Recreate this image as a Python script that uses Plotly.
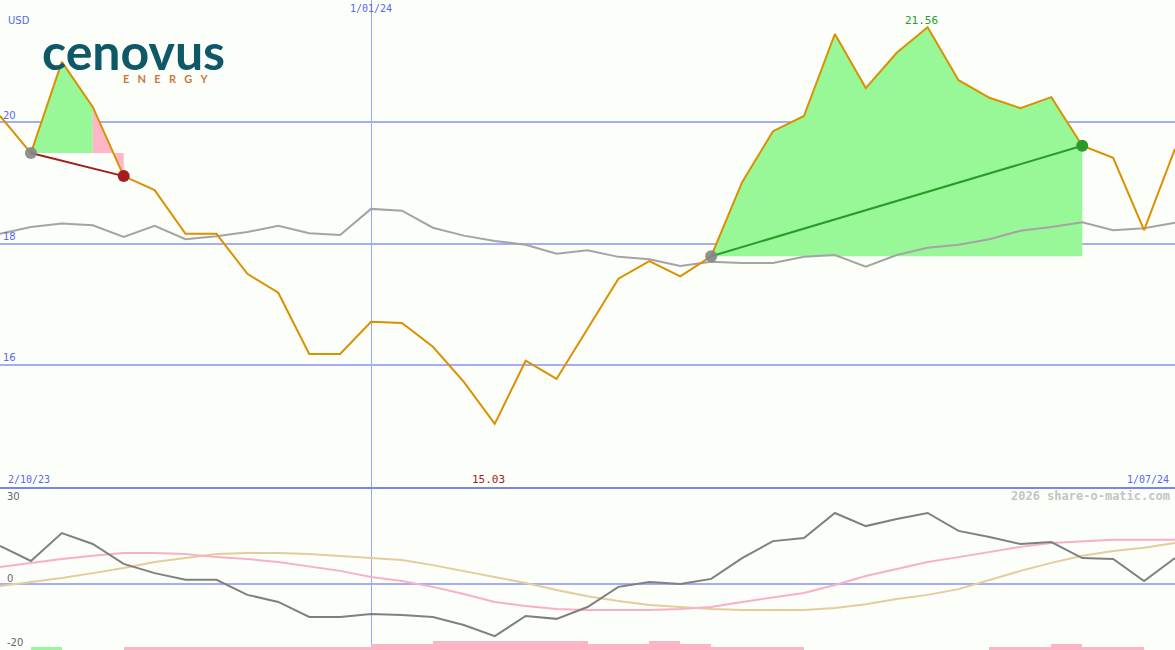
import plotly.graph_objects as go

# ---- data (weekly points, index 0..38) ----
idx = list(range(39))
close = [20.10, 19.49, 20.99, 20.25, 19.11, 18.88, 18.16, 18.16, 17.50, 17.19,
         16.18, 16.18, 16.71, 16.69, 16.30, 15.72, 15.03, 16.07, 15.77, 16.59,
         17.42, 17.71, 17.46, 17.79, 19.01, 19.85, 20.10, 21.45, 20.56, 21.14,
         21.56, 20.69, 20.40, 20.23, 20.41, 19.61, 19.41, 18.22, 19.56]
avg = [18.16, 18.27, 18.33, 18.30, 18.11, 18.29, 18.07, 18.12, 18.19, 18.29,
       18.17, 18.14, 18.57, 18.54, 18.26, 18.13, 18.04, 17.98, 17.83, 17.89,
       17.78, 17.74, 17.63, 17.70, 17.68, 17.68, 17.78, 17.81, 17.62, 17.81,
       17.93, 17.98, 18.07, 18.21, 18.27, 18.35, 18.22, 18.25, 18.34]
momentum = [11.9, 7.2, 15.9, 12.5, 6.3, 3.4, 1.3, 1.3, -3.4, -5.6,
            -10.3, -10.3, -9.4, -9.7, -10.3, -12.8, -16.3, -10.0, -10.9, -7.2,
            -0.9, 0.6, 0.0, 1.6, 8.1, 13.4, 14.4, 22.2, 18.1, 20.3,
            22.2, 16.6, 14.7, 12.5, 13.1, 8.1, 7.8, 0.9, 8.1]
osc_pink = [5.3, 6.6, 7.8, 8.8, 9.7, 9.7, 9.4, 8.4, 7.8, 6.9,
            5.6, 4.1, 2.2, 0.9, -0.9, -3.1, -5.6, -6.9, -7.8, -8.1,
            -8.1, -8.1, -7.8, -7.2, -5.6, -4.1, -2.8, -0.3, 2.5, 4.7,
            6.9, 8.4, 10.0, 11.6, 12.8, 13.4, 13.8, 13.8, 13.8]
osc_tan = [-0.6, 0.6, 1.9, 3.4, 5.0, 6.9, 8.1, 9.4, 9.7, 9.7,
           9.4, 8.8, 8.1, 7.5, 5.9, 4.1, 2.2, 0.3, -1.9, -3.8,
           -5.3, -6.6, -7.2, -7.8, -8.1, -8.1, -8.1, -7.5, -6.3, -4.7,
           -3.4, -1.6, 1.3, 4.1, 6.6, 8.8, 10.3, 11.3, 12.8]
# signal bars
bar_green_idx = [1]
bar_green_val = [1]
bar_pink_idx = [4, 5, 6, 7, 8, 9, 10, 11, 12, 13, 14, 15, 16, 17, 18, 19, 20, 21, 22, 23, 24, 25,
                32, 33, 34, 35, 36]
bar_pink_val = [1, 1, 1, 1, 1, 1, 1, 1, 2, 2, 3, 3, 3, 3, 3, 2, 2, 3, 2, 1, 1, 1,
                1, 1, 2, 1, 1]
# trades: (entry index, exit index)
trade1 = (1, 4)      # loss
trade1_peak = 3
trade2 = (23, 35)    # gain
date_tick_idx = 12
label_start, label_mid, label_end = "2/10/23", "1/01/24", "1/07/24"
price_ticks = [16, 18, 20]

BG = "#fcfefa"
GRID = "#a4aef2"
VGRID = "#9aa6fa"
LBL = "#5868ee"
ORANGE = "#db9000"
GREEN_FILL = "#98f898"
PINK_FILL = "#ffb6c8"

fig = go.Figure()

# --- fills (top panel) ---
e1, x1 = trade1
b1 = close[e1]
gx = list(range(e1, trade1_peak + 1))
fig.add_trace(go.Scatter(x=[e1] + gx + [trade1_peak], y=[b1] + [close[i] for i in gx] + [b1],
                         fill="toself", fillcolor=GREEN_FILL, line=dict(width=0),
                         mode="lines", hoverinfo="skip", showlegend=False))
fig.add_trace(go.Scatter(x=[trade1_peak, trade1_peak, x1, x1],
                         y=[b1, close[trade1_peak], close[x1], b1],
                         fill="toself", fillcolor=PINK_FILL, line=dict(width=0),
                         mode="lines", hoverinfo="skip", showlegend=False))
e2, x2 = trade2
b2 = close[e2]
rx = list(range(e2, x2 + 1))
fig.add_trace(go.Scatter(x=rx + [x2, e2], y=[close[i] for i in rx] + [b2, b2],
                         fill="toself", fillcolor=GREEN_FILL, line=dict(width=0),
                         mode="lines", hoverinfo="skip", showlegend=False))

# --- lines (top panel) ---
fig.add_trace(go.Scatter(x=idx, y=avg, mode="lines", line=dict(color="#a4a4a4", width=2),
                         showlegend=False))
fig.add_trace(go.Scatter(x=idx, y=close, mode="lines", line=dict(color=ORANGE, width=2),
                         showlegend=False))
fig.add_trace(go.Scatter(x=[e1, x1], y=[close[e1], close[x1]], mode="lines",
                         line=dict(color="#a51c1c", width=2), showlegend=False))
fig.add_trace(go.Scatter(x=[e2, x2], y=[close[e2], close[x2]], mode="lines",
                         line=dict(color="#2a9a2a", width=2), showlegend=False))
fig.add_trace(go.Scatter(x=[e1, e2], y=[close[e1], close[e2]], mode="markers",
                         marker=dict(color="#858585", size=12, opacity=0.9), showlegend=False))
fig.add_trace(go.Scatter(x=[x1], y=[close[x1]], mode="markers",
                         marker=dict(color="#a51c1c", size=12), showlegend=False))
fig.add_trace(go.Scatter(x=[x2], y=[close[x2]], mode="markers",
                         marker=dict(color="#2a9a2a", size=12), showlegend=False))

# --- lower panel ---
fig.add_trace(go.Bar(x=[i + 0.5 for i in bar_pink_idx], y=[v * 0.95 for v in bar_pink_val],
                     base=-20.63, width=1, marker=dict(color="#ffb4c6", line=dict(width=0)),
                     xaxis="x2", yaxis="y2", showlegend=False))
fig.add_trace(go.Bar(x=[i + 0.5 for i in bar_green_idx], y=[v * 0.95 for v in bar_green_val],
                     base=-20.63, width=1, marker=dict(color="#98f898", line=dict(width=0)),
                     xaxis="x2", yaxis="y2", showlegend=False))
fig.add_trace(go.Scatter(x=idx, y=osc_tan, mode="lines", line=dict(color="#e4cc9c", width=2),
                         xaxis="x2", yaxis="y2", showlegend=False))
fig.add_trace(go.Scatter(x=idx, y=osc_pink, mode="lines", line=dict(color="#f8b0c8", width=2),
                         xaxis="x2", yaxis="y2", showlegend=False))
fig.add_trace(go.Scatter(x=idx, y=momentum, mode="lines", line=dict(color="#808080", width=2),
                         xaxis="x2", yaxis="y2", showlegend=False))

mono = "DejaVu Sans Mono"
ann = []
ann.append(dict(text="USD", x=6 / 1175, xref="paper", y=1 - 20 / 650, yref="paper",
                showarrow=False, xanchor="left", yanchor="middle",
                font=dict(family="DejaVu Sans", size=10, color=LBL)))
ann.append(dict(text=label_mid, x=date_tick_idx, xref="x", y=1 - 9 / 650, yref="paper",
                showarrow=False, xanchor="center", yanchor="middle",
                font=dict(family=mono, size=10, color=LBL)))
ann.append(dict(text=label_start, x=6 / 1175, xref="paper", y=1 - 479 / 650, yref="paper",
                showarrow=False, xanchor="left", yanchor="middle",
                font=dict(family=mono, size=10, color=LBL)))
ann.append(dict(text=label_end, x=1 - 4 / 1175, xref="paper", y=1 - 479 / 650, yref="paper",
                showarrow=False, xanchor="right", yanchor="middle",
                font=dict(family=mono, size=10, color=LBL)))
imin = close.index(min(close))
imax = close.index(max(close))
ann.append(dict(text=f"{min(close):.2f}", x=imin - 0.2, xref="x", y=1 - 479 / 650, yref="paper",
                showarrow=False, xanchor="center", yanchor="middle",
                font=dict(family=mono, size=11, color="#a51c1c")))
ann.append(dict(text=f"{max(close):.2f}", x=imax - 0.2, xref="x", y=1 - 21 / 650, yref="paper",
                showarrow=False, xanchor="center", yanchor="middle",
                font=dict(family=mono, size=11, color="#2a9a2a")))
ann.append(dict(text="<b>2026 share-o-matic.com</b>", x=1 - 3 / 1175, xref="paper",
                y=1 - 496 / 650, yref="paper", showarrow=False, xanchor="right", yanchor="middle",
                font=dict(family=mono, size=12, color="#c4c4c4")))
for t, py in [("30", 496), ("0", 578), ("-20", 642)]:
    ann.append(dict(text=t, x=5 / 1175, xref="paper", y=1 - py / 650, yref="paper",
                    showarrow=False, xanchor="left", yanchor="middle",
                    font=dict(family="DejaVu Sans", size=10, color="#666666")))
# logo
ann.append(dict(text="<b>cenovus</b>", x=40 / 1175, xref="paper", y=1 - 51 / 650, yref="paper",
                showarrow=False, xanchor="left", yanchor="middle",
                font=dict(family="Lato", size=50, color="#0f5868")))
ann.append(dict(text="<b>E\u2003N\u2003E\u2003R\u2003G\u2003Y</b>", x=121 / 1175, xref="paper",
                y=1 - 78 / 650, yref="paper", showarrow=False, xanchor="left", yanchor="middle",
                font=dict(family="Lato", size=11, color="#c87a3a")))

top_bottom = 163 / 650
fig.update_layout(
    width=1175, height=650,
    margin=dict(l=0, r=0, t=0, b=0),
    paper_bgcolor=BG, plot_bgcolor=BG,
    showlegend=False, bargap=0,
    annotations=ann,
    xaxis=dict(domain=[0, 1], range=[0, 38], anchor="y", tickvals=[date_tick_idx],
               showticklabels=False, showgrid=True, gridcolor=VGRID, gridwidth=1,
               zeroline=False, showline=True, linecolor="#7686ea", linewidth=2),
    yaxis=dict(domain=[top_bottom, 1], range=[13.99, 22.01], anchor="x", tickvals=price_ticks,
               ticks="", showticklabels=True, ticklabelposition="inside top",
               tickfont=dict(family="DejaVu Sans", size=10, color=LBL),
               showgrid=True, gridcolor=GRID, gridwidth=2, zeroline=False),
    xaxis2=dict(domain=[0, 1], range=[0, 38], anchor="y2", tickvals=[date_tick_idx],
                showticklabels=False, showgrid=True, gridcolor=VGRID, gridwidth=1,
                zeroline=False),
    yaxis2=dict(domain=[0, 161 / 650], range=[-20.63, 29.69], anchor="x2", tickvals=[0],
                showticklabels=False, showgrid=True, gridcolor=GRID, gridwidth=2,
                zeroline=False),
)

fig.write_html("out.html", config={"displayModeBar": False},
               post_script="document.body.style.margin='0';document.body.style.padding='0';")
